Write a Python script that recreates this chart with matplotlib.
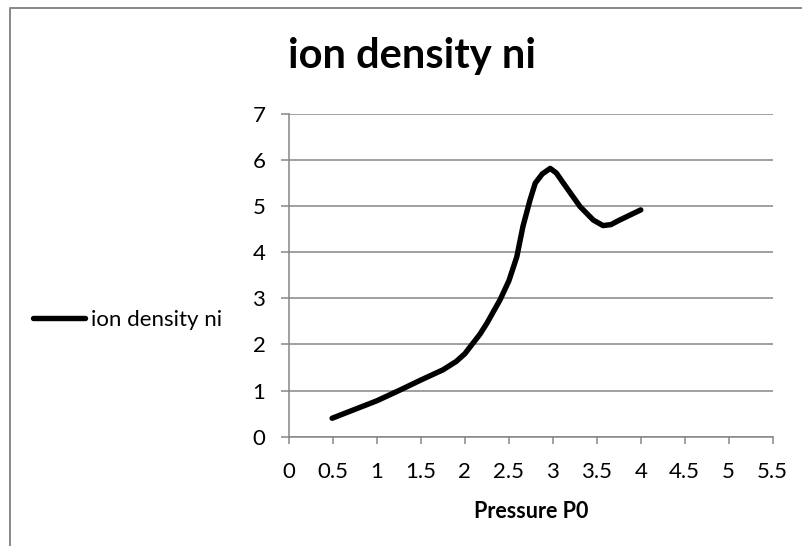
import matplotlib
matplotlib.use("Agg")
import matplotlib.pyplot as plt
from matplotlib.lines import Line2D

# Data
pressure = [0.49, 1.0, 1.26, 1.5, 1.75, 1.9, 2.0, 2.06, 2.17, 2.25, 2.4, 2.5, 2.59, 2.66, 2.74, 2.8,
            2.88, 2.97, 3.04, 3.12, 3.31, 3.46, 3.57, 3.66, 3.76, 4.0]
ion_density = [0.40, 0.78, 1.01, 1.23, 1.45, 1.63, 1.80, 1.95, 2.22, 2.46, 2.97, 3.38, 3.90, 4.56,
               5.13, 5.50, 5.70, 5.82, 5.72, 5.50, 4.99, 4.70, 4.58, 4.60, 4.70, 4.92]
x_ticks = [0, 0.5, 1, 1.5, 2, 2.5, 3, 3.5, 4, 4.5, 5, 5.5]
x_tick_labels = ["0", "0.5", "1", "1.5", "2", "2.5", "3", "3.5", "4", "4.5", "5", "5.5"]
y_ticks = [0, 1, 2, 3, 4, 5, 6, 7]
title = "ion density ni"
series_name = "ion density ni"
x_label = "Pressure P0"

plt.rcParams['font.family'] = ['Lato', 'DejaVu Sans']
W, H = 803, 546
fig = plt.figure(figsize=(W / 100, H / 100), dpi=100)
ax = fig.add_axes([289 / W, 1 - 436.7 / H, (772.7 - 289) / W, (436.7 - 114) / H])

grid_c = "#868686"
ax.plot(pressure, ion_density, color="black", lw=3.9, solid_capstyle="round",
        solid_joinstyle="round", label=series_name)
ax.set_xlim(0, 5.5)
ax.set_ylim(0, 7)
ax.set_xticks(x_ticks)
ax.set_xticklabels(x_tick_labels)
ax.set_yticks(y_ticks)
ax.yaxis.grid(True, color=grid_c, lw=1.1)
ax.set_axisbelow(True)
for s in ["top", "right"]:
    ax.spines[s].set_visible(False)
for s in ["left", "bottom"]:
    ax.spines[s].set_color(grid_c)
    ax.spines[s].set_linewidth(1.1)
fs = 16
ax.tick_params(axis="both", color=grid_c, width=1.1, labelsize=fs, labelcolor="black")
ax.tick_params(axis="y", length=6, pad=11)
ax.tick_params(axis="x", length=5, pad=13)
ax.set_xlabel(x_label, fontsize=15.5, fontweight="bold", labelpad=14)

fig.text(412.5 / W, 1 - 68 / H, title, fontsize=30, fontweight="bold", ha="center", va="baseline")

fig.legend(handles=[Line2D([], [], color="black", lw=3.9, solid_capstyle="round")],
           labels=[series_name], loc="center left", bbox_to_anchor=(33 / W, 1 - 320 / H),
           frameon=False, fontsize=fs, handlelength=2.35, handletextpad=0.25,
           borderpad=0, borderaxespad=0)

# chart frame (left and top edges visible, the rest is cropped)
fig.add_artist(Line2D([10 / W, 10 / W, 1.02], [-0.02, 1 - 8 / H, 1 - 8 / H],
                      transform=fig.transFigure, color="#888888", lw=1.4))

fig.savefig("out.png", dpi=100)
